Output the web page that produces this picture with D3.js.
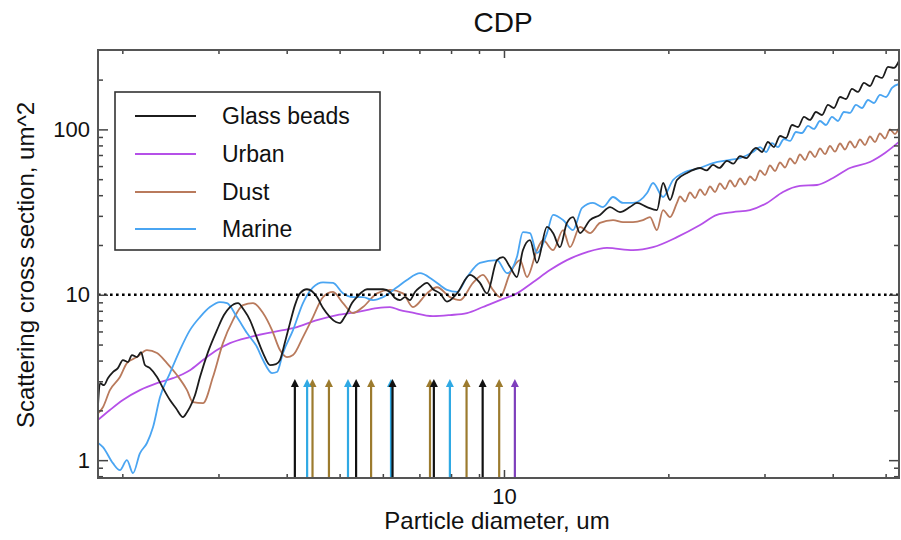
<!DOCTYPE html>
<html>
<head>
<meta charset="utf-8">
<script src="https://cdn.jsdelivr.net/npm/d3@7"></script>
<style>
  body { margin: 0; background: #fff; }
  svg { display: block; }
  text { font-family: "Liberation Sans", Arial, Helvetica, sans-serif; fill: #111; }
</style>
</head>
<body>
<svg id="chart" width="901" height="540"></svg>
<script>
// Axis extents (um, um^2)
const diameterDomain = [1.805, 52.9];
const crossSectionDomain = [0.78, 302];

// Tick values and labels
const xMajorTicks = [10];
const xMinorTicks = [2, 3, 4, 5, 6, 7, 8, 9, 20, 30, 40, 50];
const yMajorTicks = [1, 10, 100];
const yMinorTicks = [0.8, 0.9, 2, 3, 4, 5, 6, 7, 8, 9, 20, 30, 40, 50, 60, 70, 80, 90, 200];

// Reference level drawn as a dotted line
const referenceLevel = 10;

// Series: [particle diameter (um), scattering cross section (um^2)]
const glassBeads = [
  [1.805,2.15],[1.82,2.92],[1.851,2.84],[1.882,3.13],[1.922,3.41],[1.963,3.60],[2.005,4.03],[2.048,3.92],
  [2.083,4.32],[2.127,4.20],[2.164,4.50],[2.20,3.76],[2.247,3.60],[2.315,3.18],[2.374,2.73],[2.445,2.31],
  [2.508,2.06],[2.583,1.82],[2.627,1.95],[2.66,2.09],[2.717,2.47],[2.775,3.18],[2.87,4.50],[2.981,6.11],
  [3.07,7.54],[3.149,8.43],[3.257,8.91],[3.341,8.08],[3.426,7.03],[3.529,5.47],[3.62,4.44],[3.728,3.76],
  [3.823,3.81],[3.888,4.03],[3.971,5.17],[4.056,6.74],[4.142,8.66],[4.23,10.2],[4.357,10.8],[4.45,10.5],
  [4.545,9.68],[4.662,8.31],[4.801,7.33],[4.924,6.84],[5.008,6.74],[5.093,7.23],[5.158,7.75],[5.268,8.91],
  [5.38,9.68],[5.494,10.4],[5.613,10.8],[5.805,10.8],[6.004,10.8],[6.183,10.4],[6.315,9.55],[6.45,9.29],
  [6.587,9.68],[6.726,9.29],[6.871,10.4],[7.018,11.1],[7.228,11.8],[7.413,10.8],[7.635,10.2],[7.864,9.1],
  [8.203,10.2],[8.666,13.2],[9.036,11.8],[9.308,10.2],[9.71,16.2],[9.958,16.9],[10.26,14.7],[10.56,12.8],
  [10.83,18.6],[11.16,21.4],[11.49,15.6],[11.99,25.7],[12.30,23.6],[12.66,19.4],[13.04,27.2],[13.38,29.5],
  [13.78,23.6],[14.37,28.3],[14.99,30.4],[15.64,33.9],[16.31,31.6],[17.01,33.9],[17.52,35.9],[18.28,33.9],
  [19.06,32.5],[19.56,47.4],[20.14,37.4],[20.74,49.4],[21.64,54.5],[22.86,58.4],[23.5,56.5],[24.14,61.0],
  [24.8,58.5],[25.61,64.5],[26.3,62.0],[27.06,69.0],[27.8,67.0],[28.58,75.1],[28.94,77.2],[29.69,73.0],
  [30.44,83.9],[31.22,78.2],[32.03,91.2],[32.85,88.7],[33.69,106.3],[34.55,103.4],[35.44,118.9],[36.34,114.0],
  [37.27,127.4],[38.23,122.2],[39.21,140.5],[40.21,134.7],[41.25,157.0],[42.30,152.7],[43.39,175.6],[44.50,168.4],
  [45.63,190.9],[46.80,183.0],[48.01,210.4],[49.24,204.6],[50.50,238.5],[51.79,235.2],[52.90,259.3]
];

const urban = [
  [1.805,1.75],[1.898,2.01],[2.005,2.31],[2.154,2.65],[2.315,2.92],[2.476,3.13],[2.66,3.50],[2.81,4.03],
  [2.981,4.63],[3.149,5.10],[3.426,5.55],[3.775,5.95],[4.178,6.38],[4.545,7.03],[4.945,7.54],[5.38,7.86],
  [5.854,8.31],[6.183,8.43],[6.45,8.08],[6.726,7.86],[7.413,7.43],[7.964,7.54],[8.557,7.75],[9.151,8.43],
  [9.833,9.29],[10.56,10.2],[11.30,11.9],[12.14,14.1],[13.04,16.2],[14.19,18.1],[15.44,19.2],[17.23,18.6],
  [18.75,19.4],[20.74,22.3],[22.86,26.4],[24.55,30.4],[26.27,31.6],[28.22,32.5],[30.32,35.9],[32.43,41.8],
  [34.84,45.5],[37.43,46.1],[40.05,50.8],[43.02,58.4],[46.80,63.5],[49.86,72.0],[52.90,84.0]
];

const dust = [
  [1.805,1.92],[1.843,2.09],[1.898,2.65],[1.98,3.18],[2.039,3.86],[2.127,4.20],[2.219,4.63],[2.315,4.44],
  [2.414,3.86],[2.518,3.27],[2.627,2.65],[2.694,2.24],[2.81,2.21],[2.931,3.18],[3.057,5.10],[3.189,7.03],
  [3.327,8.66],[3.47,8.91],[3.62,7.75],[3.76,6.11],[3.888,4.63],[4.005,4.20],[4.108,4.32],[4.284,5.55],
  [4.469,7.33],[4.662,9.68],[4.863,10.4],[5.072,8.91],[5.29,7.75],[5.517,8.43],[5.854,10.2],[6.183,10.7],
  [6.531,10.2],[6.812,8.43],[7.228,10.2],[7.539,11.1],[7.964,9.68],[8.308,9.29],[8.776,11.8],[9.151,13.2],
  [9.548,10.7],[9.833,9.68],[10.26,13.5],[10.70,16.2],[11.02,12.8],[11.49,18.6],[11.79,21.4],[12.30,18.6],
  [12.83,24.6],[13.21,19.4],[13.78,25.7],[14.37,23.6],[14.99,27.2],[15.84,28.3],[16.52,27.5],[17.23,27.5],
  [17.97,28.3],[18.51,29.5],[19.06,24.6],[19.56,32.5],[20.14,29.5],[20.74,35.9],[21.01,39.28],[21.46,36.63],
  [21.91,41.53],[22.38,38.46],[22.86,43.29],[23.34,40.11],[23.84,45.14],[24.35,41.82],[24.86,47.07],[25.40,43.60],
  [25.94,49.08],[26.49,45.14],[27.06,50.47],[27.63,46.42],[28.22,51.89],[28.82,49.08],[29.44,56.41],[30.06,52.99],
  [30.70,60.48],[31.36,56.01],[32.03,63.07],[32.71,58.82],[33.41,66.68],[34.12,62.20],[34.84,70.50],[35.59,65.30],
  [36.34,73.51],[37.12,68.08],[37.91,76.64],[38.72,70.79],[39.54,79.35],[40.38,73.31],[41.25,82.16],[42.12,75.57],
  [43.02,84.48],[43.94,77.71],[44.87,86.87],[45.83,80.46],[46.80,90.58],[47.80,83.89],[48.82,94.46],[49.86,88.10],
  [50.93,99.86],[52.01,93.80],[52.90,101.97]
];

const marine = [
  [1.805,1.27],[1.843,1.20],[1.922,0.959],[1.98,0.870],[2.039,1.00],[2.092,0.835],[2.154,1.10],[2.219,1.27],
  [2.276,1.58],[2.344,2.40],[2.445,3.36],[2.55,4.63],[2.66,6.11],[2.775,7.33],[2.894,8.43],[3.019,9.03],
  [3.11,8.91],[3.243,7.33],[3.383,5.87],[3.529,4.83],[3.62,4.03],[3.76,3.36],[3.839,3.41],[3.937,4.44],
  [4.108,6.11],[4.284,8.91],[4.469,11.1],[4.662,11.9],[4.863,11.8],[5.072,10.2],[5.29,9.68],[5.517,9.68],
  [5.757,9.29],[6.004,9.68],[6.368,11.1],[6.642,12.3],[7.018,13.5],[7.413,12.3],[7.864,10.7],[8.203,10.4],
  [8.557,12.8],[9.036,15.6],[9.71,16.2],[10.13,13.5],[10.56,16.9],[10.83,23.9],[11.16,23.6],[11.49,17.9],
  [11.99,23.6],[12.30,30.4],[12.83,28.3],[13.38,24.6],[13.90,33.5],[14.55,35.9],[15.18,33.9],[15.84,39.0],
  [16.52,35.9],[17.23,35.9],[18.28,41.2],[18.75,47.4],[19.56,39.0],[20.40,49.4],[21.27,54.5],[22.86,58.4],
  [24.14,62.6],[25.94,65.3],[27.06,67.1],[28.58,73.0],[29.44,78.2],[30.19,73.0],[30.96,82.7],[31.75,78.2],
  [32.57,87.5],[33.41,85.1],[34.26,96.4],[35.14,95.1],[36.04,104.9],[36.96,100.6],[37.91,112.4],[38.88,106.3],
  [39.87,118.9],[40.89,112.4],[41.94,127.4],[43.02,125.7],[44.12,140.5],[45.25,134.7],[46.42,150.6],[47.61,144.4],
  [48.82,161.5],[50.08,157.0],[51.36,178.0],[52.90,188.2]
];

// Vertical markers (diameters, um) and the level their arrow tips reach
const blackArrows = [4.14, 5.36, 6.25, 7.44, 9.14];
const blueArrows = [4.36, 5.18, 6.21, 7.96];
const goldArrows = [4.46, 4.78, 5.71, 7.32, 8.54, 9.80];
const purpleArrows = [10.47];
const arrowTip = 3.05;

const series = [
  { name: "Glass beads", data: glassBeads, color: "#1c1c1c" },
  { name: "Urban", data: urban, color: "#b550e8" },
  { name: "Dust", data: dust, color: "#b97a5c" },
  { name: "Marine", data: marine, color: "#4aa5f2" }
];
const drawOrder = [1, 2, 3, 0];

const arrowGroups = [
  { data: goldArrows, color: "#9c7b2e" },
  { data: blueArrows, color: "#2fa9e4" },
  { data: blackArrows, color: "#111111" },
  { data: purpleArrows, color: "#7e3fbc" }
];

const plot = { left: 98, right: 899, top: 50, bottom: 478 };
const svg = d3.select("#chart");

const x = d3.scaleLog().domain(diameterDomain).range([plot.left, plot.right]);
const y = d3.scaleLog().domain(crossSectionDomain).range([plot.bottom, plot.top]);

svg.append("defs").append("clipPath").attr("id", "plot-clip")
  .append("rect")
  .attr("x", plot.left).attr("y", plot.top)
  .attr("width", plot.right - plot.left).attr("height", plot.bottom - plot.top);

// Title
svg.append("text")
  .attr("x", 503).attr("y", 32)
  .attr("text-anchor", "middle")
  .style("font-size", "28px")
  .text("CDP");

// Curves
const line = d3.line()
  .x(d => x(d[0]))
  .y(d => y(d[1]))
  .curve(d3.curveMonotoneX);

const curves = svg.append("g").attr("clip-path", "url(#plot-clip)");
drawOrder.forEach(i => {
  curves.append("path")
    .datum(series[i].data)
    .attr("fill", "none")
    .attr("stroke", series[i].color)
    .attr("stroke-width", 1.8)
    .attr("stroke-linejoin", "round")
    .attr("d", line);
});

// Dotted reference line
svg.append("line")
  .attr("x1", plot.left).attr("x2", plot.right)
  .attr("y1", y(referenceLevel)).attr("y2", y(referenceLevel))
  .attr("stroke", "#000")
  .attr("stroke-width", 2.6)
  .attr("stroke-dasharray", "2.6,3.4");

// Arrows
const arrows = svg.append("g");
arrowGroups.forEach(g => {
  g.data.forEach(d => {
    const ax = x(d), top = y(arrowTip);
    arrows.append("line")
      .attr("x1", ax).attr("x2", ax)
      .attr("y1", plot.bottom).attr("y2", top + 5)
      .attr("stroke", g.color).attr("stroke-width", 2.2);
    arrows.append("path")
      .attr("d", `M${ax - 4},${top + 7} L${ax},${top - 1} L${ax + 4},${top + 7} Z`)
      .attr("fill", g.color);
  });
});

// Axes: ticks point inward on all four sides
const tickColor = "#444";
function styleAxis(g) {
  g.select(".domain").remove();
  g.selectAll(".tick line").attr("stroke", tickColor).attr("stroke-width", 1.5);
  g.selectAll(".tick text").style("font-size", "22px").attr("fill", "#111");
}

svg.append("g").attr("transform", `translate(0,${plot.bottom})`)
  .call(d3.axisBottom(x).tickValues(xMinorTicks).tickSize(-4).tickFormat(""))
  .call(styleAxis);
svg.append("g").attr("transform", `translate(0,${plot.bottom})`)
  .call(d3.axisBottom(x).tickValues(xMajorTicks).tickSize(-8).tickPadding(10).tickFormat(d3.format("d")))
  .call(styleAxis);
svg.append("g").attr("transform", `translate(0,${plot.top})`)
  .call(d3.axisTop(x).tickValues(xMinorTicks).tickSize(-4).tickFormat(""))
  .call(styleAxis);
svg.append("g").attr("transform", `translate(0,${plot.top})`)
  .call(d3.axisTop(x).tickValues(xMajorTicks).tickSize(-8).tickFormat(""))
  .call(styleAxis);

svg.append("g").attr("transform", `translate(${plot.left},0)`)
  .call(d3.axisLeft(y).tickValues(yMinorTicks).tickSize(-5).tickFormat(""))
  .call(styleAxis);
svg.append("g").attr("transform", `translate(${plot.left},0)`)
  .call(d3.axisLeft(y).tickValues(yMajorTicks).tickSize(-10).tickPadding(8).tickFormat(d3.format("d")))
  .call(styleAxis);
svg.append("g").attr("transform", `translate(${plot.right},0)`)
  .call(d3.axisRight(y).tickValues(yMinorTicks).tickSize(-5).tickFormat(""))
  .call(styleAxis);
svg.append("g").attr("transform", `translate(${plot.right},0)`)
  .call(d3.axisRight(y).tickValues(yMajorTicks).tickSize(-10).tickFormat(""))
  .call(styleAxis);

// Frame
svg.append("rect")
  .attr("x", plot.left).attr("y", plot.top)
  .attr("width", plot.right - plot.left).attr("height", plot.bottom - plot.top)
  .attr("fill", "none").attr("stroke", "#555").attr("stroke-width", 2);

// Axis titles
svg.append("text")
  .attr("x", 497).attr("y", 529)
  .attr("text-anchor", "middle")
  .style("font-size", "24px")
  .text("Particle diameter, um");

svg.append("text")
  .attr("transform", "translate(34,265) rotate(-90)")
  .attr("text-anchor", "middle")
  .style("font-size", "24px")
  .text("Scattering cross section, um^2");

// Legend
const legend = svg.append("g");
legend.append("rect")
  .attr("x", 115).attr("y", 92).attr("width", 265).attr("height", 158)
  .attr("fill", "#fff").attr("stroke", "#333").attr("stroke-width", 1.6);
const legendRows = [116, 154, 192, 229];
series.forEach((s, i) => {
  legend.append("line")
    .attr("x1", 135).attr("x2", 196)
    .attr("y1", legendRows[i]).attr("y2", legendRows[i])
    .attr("stroke", s.color).attr("stroke-width", 1.8);
  legend.append("text")
    .attr("x", 222).attr("y", legendRows[i] + 8)
    .style("font-size", "23px")
    .text(s.name);
});
</script>
</body>
</html>
